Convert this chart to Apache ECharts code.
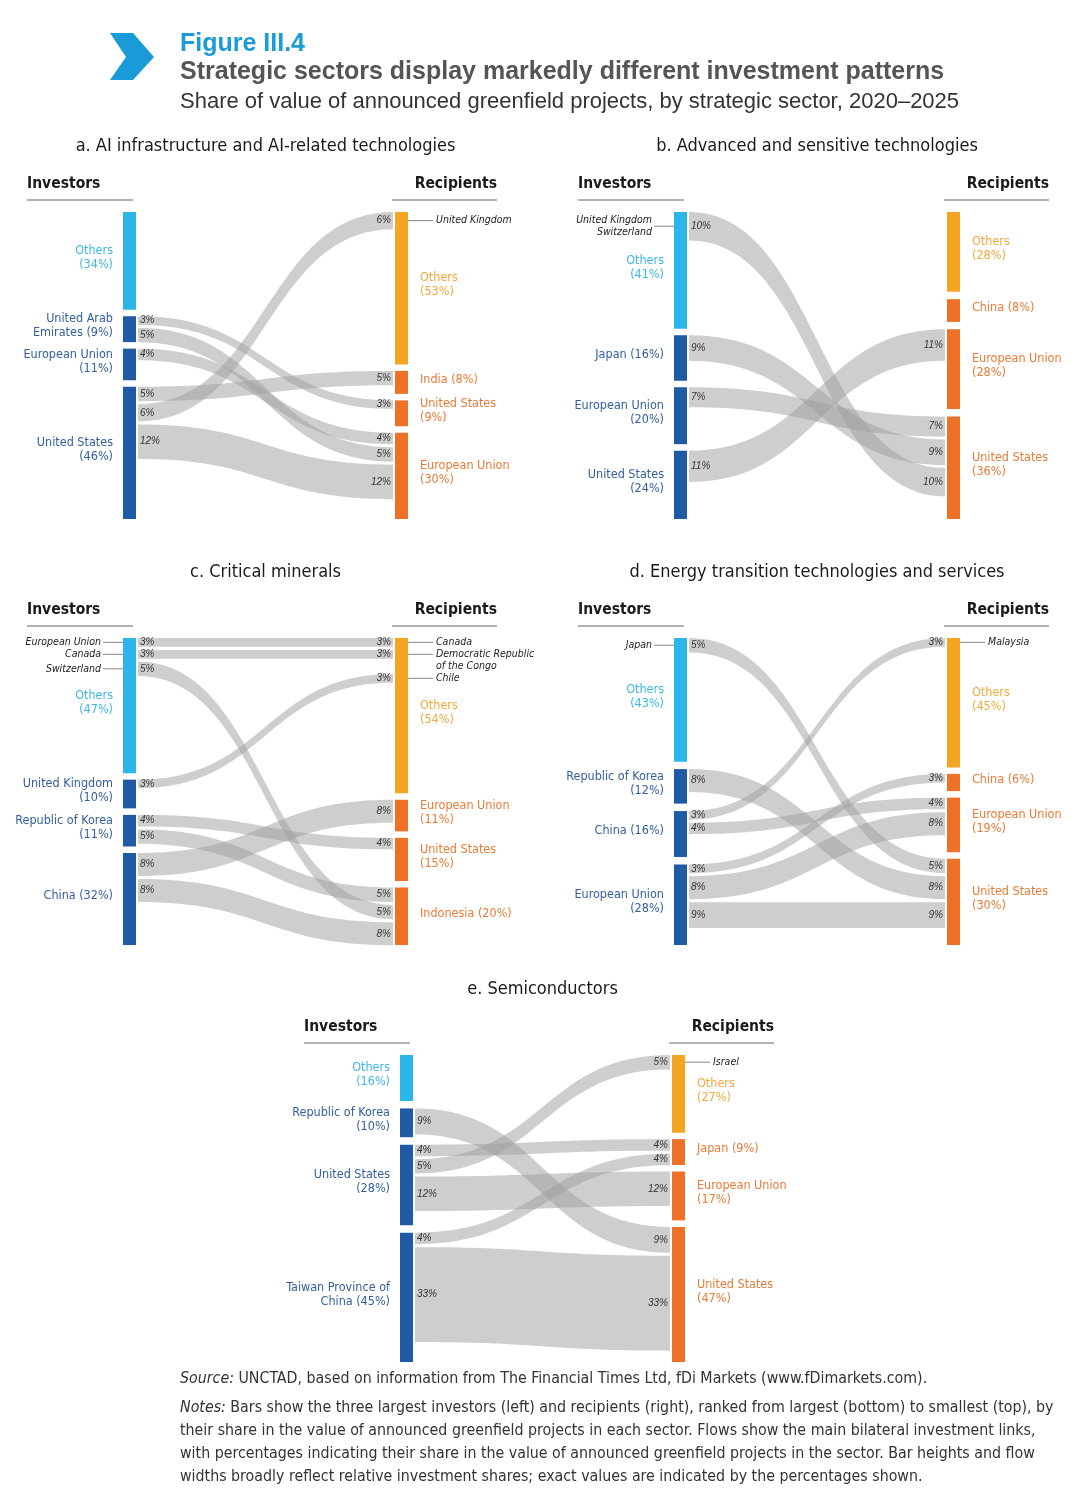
<!DOCTYPE html>
<html><head><meta charset="utf-8">
<script src="https://cdn.jsdelivr.net/npm/echarts@6/dist/echarts.min.js"></script>
<style>html,body{margin:0;padding:0;background:#fff}#c{width:1080px;height:1509px}</style>
</head><body><div id="c"></div>
<script>
// ================= DATA =================
// a. AI infrastructure and AI-related technologies
const aInvestors = ['Others', 'United Arab\nEmirates', 'European Union', 'United States'];
const aInvestorShares = [34, 9, 11, 46];
const aRecipients = ['Others', 'India', 'United States', 'European Union'];
const aRecipientShares = [53, 8, 9, 30];
const aFlowFrom = [1, 1, 2, 3, 3, 3];
const aFlowTo = [2, 3, 3, 1, 0, 3];
const aFlowValues = [3, 5, 4, 5, 6, 12];
const aFlowToOrder = [0, 1, 0, 0, 0, 2];
const aFromNotes = ['', '', '', '', '', ''];
const aToNotes = ['', '', '', '', 'United Kingdom', ''];

// b. Advanced and sensitive technologies
const bInvestors = ['Others', 'Japan', 'European Union', 'United States'];
const bInvestorShares = [41, 16, 20, 24];
const bRecipients = ['Others', 'China', 'European Union', 'United States'];
const bRecipientShares = [28, 8, 28, 36];
const bFlowFrom = [0, 1, 2, 3];
const bFlowTo = [3, 3, 3, 2];
const bFlowValues = [10, 9, 7, 11];
const bFlowToOrder = [2, 1, 0, 0];
const bFromNotes = ['United Kingdom\nSwitzerland', '', '', ''];
const bToNotes = ['', '', '', ''];

// c. Critical minerals
const cInvestors = ['Others', 'United Kingdom', 'Republic of Korea', 'China'];
const cInvestorShares = [47, 10, 11, 32];
const cRecipients = ['Others', 'European Union', 'United States', 'Indonesia'];
const cRecipientShares = [54, 11, 15, 20];
const cFlowFrom = [0, 0, 0, 1, 2, 2, 3, 3];
const cFlowTo = [0, 0, 3, 0, 2, 3, 1, 3];
const cFlowValues = [3, 3, 5, 3, 4, 5, 8, 8];
const cFlowToOrder = [0, 1, 1, 2, 0, 0, 0, 2];
const cFromNotes = ['European Union', 'Canada', 'Switzerland', '', '', '', '', ''];
const cToNotes = ['Canada', 'Democratic Republic\nof the Congo', '', 'Chile', '', '', '', ''];

// d. Energy transition technologies and services
const dInvestors = ['Others', 'Republic of Korea', 'China', 'European Union'];
const dInvestorShares = [43, 12, 16, 28];
const dRecipients = ['Others', 'China', 'European Union', 'United States'];
const dRecipientShares = [45, 6, 19, 30];
const dFlowFrom = [0, 1, 2, 2, 3, 3, 3];
const dFlowTo = [3, 3, 0, 2, 1, 2, 3];
const dFlowValues = [5, 8, 3, 4, 3, 8, 9];
const dFlowToOrder = [0, 1, 0, 0, 0, 1, 2];
const dFromNotes = ['Japan', '', '', '', '', '', ''];
const dToNotes = ['', '', 'Malaysia', '', '', '', ''];

// e. Semiconductors
const eInvestors = ['Others', 'Republic of Korea', 'United States', 'Taiwan Province of\nChina'];
const eInvestorShares = [16, 10, 28, 45];
const eRecipients = ['Others', 'Japan', 'European Union', 'United States'];
const eRecipientShares = [27, 9, 17, 47];
const eFlowFrom = [1, 2, 2, 2, 3, 3];
const eFlowTo = [3, 1, 0, 2, 1, 3];
const eFlowValues = [9, 4, 5, 12, 4, 33];
const eFlowToOrder = [0, 0, 0, 0, 1, 1];
const eFromNotes = ['', '', '', '', '', ''];
const eToNotes = ['', '', 'Israel', '', '', ''];

const panelTitles = [
  'a. AI infrastructure and AI-related technologies',
  'b. Advanced and sensitive technologies',
  'c. Critical minerals',
  'd. Energy transition technologies and services',
  'e. Semiconductors'
];

// ================= BUILD =================
const panels = [
  {inv: aInvestors, invS: aInvestorShares, rec: aRecipients, recS: aRecipientShares, from: aFlowFrom, to: aFlowTo, vals: aFlowValues, toOrder: aFlowToOrder, fromNotes: aFromNotes, toNotes: aToNotes},
  {inv: bInvestors, invS: bInvestorShares, rec: bRecipients, recS: bRecipientShares, from: bFlowFrom, to: bFlowTo, vals: bFlowValues, toOrder: bFlowToOrder, fromNotes: bFromNotes, toNotes: bToNotes},
  {inv: cInvestors, invS: cInvestorShares, rec: cRecipients, recS: cRecipientShares, from: cFlowFrom, to: cFlowTo, vals: cFlowValues, toOrder: cFlowToOrder, fromNotes: cFromNotes, toNotes: cToNotes},
  {inv: dInvestors, invS: dInvestorShares, rec: dRecipients, recS: dRecipientShares, from: dFlowFrom, to: dFlowTo, vals: dFlowValues, toOrder: dFlowToOrder, fromNotes: dFromNotes, toNotes: dToNotes},
  {inv: eInvestors, invS: eInvestorShares, rec: eRecipients, recS: eRecipientShares, from: eFlowFrom, to: eFlowTo, vals: eFlowValues, toOrder: eFlowToOrder, fromNotes: eFromNotes, toNotes: eToNotes}
];

// layout (styling, not data)
const boxes = [
  {left: 123, top: 212, width: 285, height: 307},
  {left: 674, top: 212, width: 286, height: 307},
  {left: 123, top: 638, width: 285, height: 307},
  {left: 674, top: 638, width: 286, height: 307},
  {left: 400, top: 1055, width: 285, height: 307}
];
const NARROW = "'Liberation Sans Narrow','Arial Narrow','DejaVu Sans Condensed',sans-serif";
const SANS = "'Liberation Sans',Arial,Helvetica,sans-serif";
const BAR_W = 13, NODE_GAP_PX = 6.5, FLOW_GAP_PX = 3, NOTE_LH = 12;
const C_INV_OTH = '#2cb5e9', C_INV = '#1f5aa6', C_REC_OTH = '#f6a523', C_REC = '#ef7127';
const L_INV_OTH = '#3db7e6', L_INV = '#33609f', L_REC_OTH = '#f2a93b', L_REC = '#ea7a36';
const FLOW_FILL = 'rgba(158,158,158,0.5)';

function sum(a) { return a.reduce((s, v) => s + v, 0); }
function nodeLabel(name, share) {
  if (name.indexOf('\n') >= 0) return name + ' (' + share + '%)';
  if (name === 'Others' || name.length > 10) return name + '\n(' + share + '%)';
  return name + ' (' + share + '%)';
}
function nLines(s) { return s ? s.split('\n').length : 0; }

function computeLayout(p, box) {
  const sumL = sum(p.invS), sumR = sum(p.recS);
  const nGaps = p.invS.length - 1;
  const T = Math.max(sumL, sumR) / (1 - nGaps * NODE_GAP_PX / box.height);
  const k = box.height / T;
  function stack(shares, s) {
    const g = (T - s) / (shares.length - 1);
    let y = 0;
    return shares.map(v => { const n = [y, y + v]; y += v + g; return n; });
  }
  const L = stack(p.invS, sumL), R = stack(p.recS, sumR);
  const fg = FLOW_GAP_PX / k, lh = NOTE_LH / k;
  const n = p.vals.length, sy = [], ty = [];
  const cur = L.map(d => d[0]), prev = L.map(() => null);
  for (let i = 0; i < n; i++) {
    const s = p.from[i], v = p.vals[i], note = p.fromNotes[i];
    let y = cur[s];
    if (note && prev[s]) y = Math.max(y, prev[s].c + (prev[s].lines / 2 + nLines(note) / 2) * lh - v / 2);
    sy[i] = y; cur[s] = y + v + fg;
    if (note) prev[s] = {c: y + v / 2, lines: nLines(note)};
  }
  const order = Array.from({length: n}, (_, i) => i).sort((a, b) => (p.to[a] - p.to[b]) || (p.toOrder[a] - p.toOrder[b]));
  const curR = R.map(d => d[0]), prevR = R.map(() => null);
  order.forEach(i => {
    const t = p.to[i], v = p.vals[i], note = p.toNotes[i];
    let y = curR[t];
    if (note && prevR[t]) y = Math.max(y, prevR[t].c + prevR[t].lines * lh - v / 2);
    ty[i] = y; curR[t] = y + v + fg;
    if (note) prevR[t] = {c: y + v / 2, lines: nLines(note)};
  });
  return {T, L, R, sy, ty};
}

function bez(p0, p1, steps) {
  const pts = [];
  const dx = (p1[0] - p0[0]) * 0.5;
  for (let s = 0; s <= steps; s++) {
    const t = s / steps, u = 1 - t;
    const x = u*u*u*p0[0] + 3*u*u*t*(p0[0] + dx) + 3*u*t*t*(p1[0] - dx) + t*t*t*p1[0];
    const y = u*u*u*p0[1] + 3*u*u*t*p0[1] + 3*u*t*t*p1[1] + t*t*t*p1[1];
    pts.push([x, y]);
  }
  return pts;
}

const grids = [], xAxes = [], yAxes = [], series = [], graphics = [];

panels.forEach((p, pi) => {
  const box = boxes[pi];
  const lay = computeLayout(p, box);
  grids.push({left: box.left, top: box.top, width: box.width, height: box.height});
  xAxes.push({gridIndex: pi, type: 'value', min: 0, max: 1, show: false});
  yAxes.push({gridIndex: pi, type: 'value', min: 0, max: lay.T, inverse: true, show: false});
  const nF = p.vals.length, nL = p.inv.length;
  const data = [];
  p.vals.forEach((v, i) => data.push([0, lay.sy[i], lay.sy[i] + v, lay.ty[i], lay.ty[i] + v]));
  lay.L.forEach(d => data.push([1, d[0], d[1], 0, 0]));
  lay.R.forEach(d => data.push([2, d[0], d[1], 0, 0]));

  series.push({
    type: 'custom', coordinateSystem: 'cartesian2d', xAxisIndex: pi, yAxisIndex: pi,
    silent: true, clip: false, animation: false, data: data,
    renderItem: function (params, api) {
      const idx = params.dataIndex;
      const kind = api.value(0);
      const xL = api.coord([0, 0])[0], xR = api.coord([1, 0])[0];
      const children = [];
      if (kind === 0) {
        const s0 = api.coord([0, api.value(1)])[1], s1 = api.coord([0, api.value(2)])[1];
        const t0 = api.coord([1, api.value(3)])[1], t1 = api.coord([1, api.value(4)])[1];
        const x0 = xL + BAR_W + 2, x1 = xR - BAR_W - 2;
        const top = bez([x0, s0], [x1, t0], 40);
        const bot = bez([x1, t1], [x0, s1], 40);
        children.push({type: 'polygon', shape: {points: top.concat(bot)}, style: {fill: FLOW_FILL}});
        const v = Math.round(api.value(2) - api.value(1));
        const pctStyle = {fontSize: 10, fontStyle: 'italic', fontFamily: SANS, fill: '#333'};
        children.push({type: 'text', x: x0 + 2, y: (s0 + s1) / 2, z2: 5,
          style: Object.assign({text: v + '%', align: 'left', verticalAlign: 'middle'}, pctStyle)});
        children.push({type: 'text', x: x1 - 2, y: (t0 + t1) / 2, z2: 5,
          style: Object.assign({text: v + '%', align: 'right', verticalAlign: 'middle'}, pctStyle)});
        const fn = p.fromNotes[idx], tn = p.toNotes[idx];
        const noteStyle = {fontSize: 10.5, fontStyle: 'italic', fontFamily: NARROW, fill: '#222', lineHeight: NOTE_LH};
        if (fn) {
          const yc = (s0 + s1) / 2;
          children.push({type: 'line', shape: {x1: xL - 20, y1: yc, x2: xL, y2: yc}, style: {stroke: '#666', lineWidth: 0.8}});
          children.push({type: 'text', x: xL - 22, y: yc, z2: 5,
            style: Object.assign({text: fn, align: 'right', verticalAlign: 'middle'}, noteStyle)});
        }
        if (tn) {
          const yc = (t0 + t1) / 2;
          children.push({type: 'line', shape: {x1: xR, y1: yc, x2: xR + 25, y2: yc}, style: {stroke: '#666', lineWidth: 0.8}});
          children.push({type: 'text', x: xR + 28, y: yc - NOTE_LH / 2, z2: 5,
            style: Object.assign({text: tn, align: 'left', verticalAlign: 'top'}, noteStyle)});
        }
      } else {
        const y0 = api.coord([0, api.value(1)])[1], y1 = api.coord([0, api.value(2)])[1];
        const left = kind === 1;
        const j = left ? idx - nF : idx - nF - nL;
        const isOth = j === 0;
        const fill = left ? (isOth ? C_INV_OTH : C_INV) : (isOth ? C_REC_OTH : C_REC);
        const lcol = left ? (isOth ? L_INV_OTH : L_INV) : (isOth ? L_REC_OTH : L_REC);
        const bx = left ? xL : xR - BAR_W;
        children.push({type: 'rect', shape: {x: bx, y: y0, width: BAR_W, height: y1 - y0}, style: {fill: fill}, z2: 3});
        const txt = left ? nodeLabel(p.inv[j], p.invS[j]) : nodeLabel(p.rec[j], p.recS[j]);
        children.push({type: 'text', x: left ? xL - 10 : xR + 12, y: (y0 + y1) / 2 - 3, z2: 5,
          style: {text: txt, align: left ? 'right' : 'left', verticalAlign: 'middle',
            fontSize: 12.5, fontFamily: NARROW, fill: lcol, lineHeight: 14}});
      }
      return {type: 'group', children: children};
    }
  });

  // panel headings
  const gR = box.left + box.width;
  graphics.push({type: 'text', x: box.left + box.width / 2, y: box.top - 66,
    style: {text: panelTitles[pi], align: 'center', verticalAlign: 'middle', fontSize: 18, fontFamily: NARROW, fill: '#1a1a1a'}});
  graphics.push({type: 'text', x: box.left - 96, y: box.top - 28,
    style: {text: 'Investors', align: 'left', verticalAlign: 'middle', fontSize: 15.5, fontWeight: 'bold', fontFamily: NARROW, fill: '#1a1a1a'}});
  graphics.push({type: 'line', shape: {x1: box.left - 96, y1: box.top - 12, x2: box.left + 10, y2: box.top - 12}, style: {stroke: '#666', lineWidth: 1}});
  graphics.push({type: 'text', x: gR + 89, y: box.top - 28,
    style: {text: 'Recipients', align: 'right', verticalAlign: 'middle', fontSize: 15.5, fontWeight: 'bold', fontFamily: NARROW, fill: '#1a1a1a'}});
  graphics.push({type: 'line', shape: {x1: gR - 16, y1: box.top - 12, x2: gR + 89, y2: box.top - 12}, style: {stroke: '#666', lineWidth: 1}});
});

// header
graphics.push({type: 'polygon', shape: {points: [[110, 33], [133, 33], [154, 57], [133, 80], [110, 80], [126, 57]]}, style: {fill: '#1a9ad6'}});
graphics.push({type: 'text', x: 180, y: 44, style: {text: 'Figure III.4', verticalAlign: 'middle', fontSize: 25, fontWeight: 'bold', fontFamily: SANS, fill: '#1b9bd7'}});
graphics.push({type: 'text', x: 180, y: 72, style: {text: 'Strategic sectors display markedly different investment patterns', verticalAlign: 'middle', fontSize: 25, fontWeight: 'bold', fontFamily: SANS, fill: '#555'}});
graphics.push({type: 'text', x: 180, y: 102, style: {text: 'Share of value of announced greenfield projects, by strategic sector, 2020\u20132025', verticalAlign: 'middle', fontSize: 22, fontFamily: SANS, fill: '#333'}});

// source and notes
const rich = {i: {fontStyle: 'italic', fontSize: 15.8, fontFamily: NARROW, fill: '#333'}, n: {fontSize: 15.8, fontFamily: NARROW, fill: '#333'}};
graphics.push({type: 'text', x: 180, y: 1379, style: {text: '{i|Source:}{n| UNCTAD, based on information from The Financial Times Ltd, fDi Markets (www.fDimarkets.com).}', verticalAlign: 'middle', rich: rich, fontSize: 15.8, fontFamily: NARROW}});
const noteLines = [
  '{i|Notes:}{n| Bars show the three largest investors (left) and recipients (right), ranked from largest (bottom) to smallest (top), by}',
  '{n|their share in the value of announced greenfield projects in each sector. Flows show the main bilateral investment links,}',
  '{n|with percentages indicating their share in the value of announced greenfield projects in the sector. Bar heights and flow}',
  '{n|widths broadly reflect relative investment shares; exact values are indicated by the percentages shown.}'
];
noteLines.forEach((t, i) => graphics.push({type: 'text', x: 180, y: 1408 + i * 23, style: {text: t, verticalAlign: 'middle', rich: rich, fontSize: 15.8, fontFamily: NARROW}}));

const chart = echarts.init(document.getElementById('c'), null, {renderer: 'canvas'});
chart.setOption({
  backgroundColor: '#ffffff',
  animation: false,
  grid: grids, xAxis: xAxes, yAxis: yAxes, series: series,
  graphic: {elements: graphics}
});
</script></body></html>
